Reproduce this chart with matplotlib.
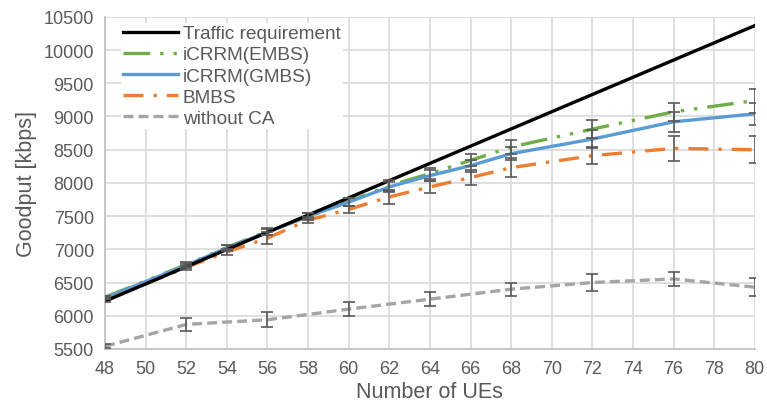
# -*- coding: utf-8 -*-
import numpy as np
import matplotlib
matplotlib.use('Agg')
import matplotlib.pyplot as plt

### data
ues_req = [48, 80]
req = [6220, 10368]

ues = [48, 52, 54, 56, 58, 60, 62, 64, 66, 68, 72, 76, 80]
embs = [6280, 6770, 7030, 7270, 7490, 7720, 7960, 8140, 8340, 8540, 8810, 9070, 9240]
embs_err = [20, 40, 40, 50, 50, 60, 80, 80, 90, 100, 130, 140, 180]
gmbs = [6270, 6760, 7020, 7260, 7500, 7710, 7940, 8110, 8260, 8440, 8660, 8920, 9040]
gmbs_err = [20, 40, 40, 50, 50, 60, 80, 80, 90, 100, 130, 150, 170]
bmbs = [6230, 6730, 6960, 7170, 7440, 7600, 7790, 7940, 8080, 8230, 8410, 8520, 8500]
bmbs_err = [20, 40, 40, 90, 50, 60, 100, 90, 110, 140, 130, 190, 200]

ues_noca = [48, 52, 56, 60, 64, 68, 72, 76, 80]
noca = [5540, 5870, 5940, 6100, 6250, 6400, 6500, 6555, 6430]
noca_err = [30, 95, 110, 105, 110, 100, 125, 110, 135]

xticks = list(range(48, 81, 2))
yticks = list(range(5500, 10501, 500))

plt.rcParams['font.family'] = ['Liberation Sans', 'DejaVu Sans']
txt = '#595959'
grid = '#D9D9D9'
ecol = '#595959'

fig = plt.figure(figsize=(7.67, 4.06), dpi=100)
ax = fig.add_axes([0.137, 0.138, 0.847, 0.818])

lw = 2.4
ax.plot(ues_req, req, color='black', lw=lw, label='Traffic requirement', zorder=5)
ax.plot(ues, embs, color='#70AD47', lw=lw, dashes=[8, 3, 1, 3, 1, 3],
        label='iCRRM(EMBS)', zorder=4)
ax.plot(ues, gmbs, color='#5B9BD5', lw=lw, label='iCRRM(GMBS)', zorder=4)
ax.plot(ues, bmbs, color='#ED7D31', lw=lw, dashes=[6, 3, 1, 3],
        label='BMBS', zorder=4)
ax.plot(ues_noca, noca, color='#A5A5A5', lw=lw, dashes=[3, 1.5],
        label='without CA', zorder=4)

for x, y, e in [(ues, embs, embs_err), (ues, gmbs, gmbs_err),
                (ues, bmbs, bmbs_err), (ues_noca, noca, noca_err)]:
    ax.errorbar(x, y, yerr=e, fmt='none', ecolor=ecol, elinewidth=1.2,
                capsize=4, capthick=1.2, zorder=6)

ax.set_xlim(48, 80)
ax.set_ylim(5500, 10500)
ax.set_xticks(xticks)
ax.set_yticks(yticks)
ax.grid(True, color=grid, lw=1.2)
ax.set_axisbelow(True)
for s in ['top', 'right']:
    ax.spines[s].set_visible(False)
for s in ['left', 'bottom']:
    ax.spines[s].set_color('#BFBFBF')
    ax.spines[s].set_linewidth(1.2)
ax.tick_params(length=0, labelsize=13, colors=txt, pad=8)
ax.set_xlabel('Number of UEs', fontsize=15.5, color=txt, labelpad=3)
ax.set_ylabel('Goodput [kbps]', fontsize=15.5, color=txt, labelpad=5)

leg = ax.legend(loc='upper left', fontsize=13.7, frameon=True, fancybox=False,
                edgecolor='none', facecolor='white', framealpha=1.0,
                handlelength=2.9, handletextpad=0.25, labelspacing=0.2,
                borderpad=0.1, bbox_to_anchor=(0.01, 1.01))
for t in leg.get_texts():
    t.set_color(txt)
leg.set_zorder(10)

fig.savefig('out.png', dpi=100)
